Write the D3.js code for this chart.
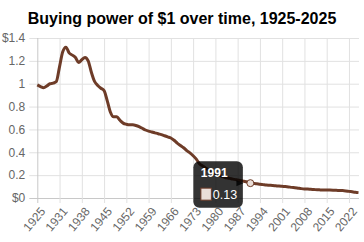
<!DOCTYPE html>
<html>
<head>
<meta charset="utf-8">
<script src="https://cdn.jsdelivr.net/npm/d3@7"></script>
<style>
    body { margin: 0; background: #fff; }
    text { font-family: "Liberation Sans", Arial, Helvetica, sans-serif; }
</style>
</head>
<body>
<div id="canvas"></div>
<script>
"use strict"

let svgWidth = 364
let svgHeight = 242

let topMargin = 38
let rightMargin = 5.5
let bottomMargin = 44
let leftMargin = 37.3

// category labels, as the source chart lists them (1925 appears twice)
let years = [1925].concat(d3.range(1925, 2026))

// buying power of $1 (1925 dollars), one value per label
let values = [
    0.99, 0.975, 0.965, 0.98, 1.0, 1.005, 1.02, 1.15, 1.28, 1.32,
    1.27, 1.25, 1.23, 1.185, 1.21, 1.23, 1.2, 1.1, 1.02, 0.985,
    0.96, 0.94, 0.85, 0.75, 0.71, 0.71, 0.68, 0.655, 0.645, 0.64,
    0.64, 0.635, 0.625, 0.61, 0.595, 0.585, 0.578, 0.57, 0.562, 0.555,
    0.545, 0.535, 0.525, 0.505, 0.48, 0.46, 0.44, 0.415, 0.395, 0.37,
    0.34, 0.3, 0.28, 0.26, 0.245, 0.23, 0.215, 0.2, 0.19, 0.18,
    0.175, 0.168, 0.163, 0.157, 0.151, 0.146, 0.14, 0.13, 0.127, 0.124,
    0.12, 0.117, 0.114, 0.112, 0.11, 0.107, 0.104, 0.102, 0.1, 0.097,
    0.093, 0.09, 0.086, 0.082, 0.079, 0.078, 0.076, 0.074, 0.072, 0.071,
    0.07, 0.07, 0.069, 0.068, 0.067, 0.066, 0.065, 0.062, 0.058, 0.054,
    0.05, 0.047
]

let yTicks = [0, 0.2, 0.4, 0.6, 0.8, 1, 1.2, 1.4]
let xTickStep = 7
let hoverIndex = 67   // 1991

let lineColor = "#6e3c28"
let gridColor = "#e1e1e1"
let labelColor = "#666"

let svg = d3.select("#canvas")
    .append("svg")
    .attr("width", svgWidth)
    .attr("height", svgHeight)

let xScale = d3.scalePoint()
    .domain(d3.range(years.length))
    .range([leftMargin, svgWidth - rightMargin])

let yScale = d3.scaleLinear()
    .domain([0, 1.4])
    .range([svgHeight - bottomMargin, topMargin])

/* title */
svg.append("text")
    .attr("x", svgWidth / 2)
    .attr("y", 24)
    .attr("text-anchor", "middle")
    .style("font-size", "16px")
    .style("font-weight", "bold")
    .attr("fill", "#000")
    .text("Buying power of $1 over time, 1925-2025")

/* y axis with grid */
let yAxis = svg.append("g")
    .attr("transform", `translate(${leftMargin},0)`)
    .call(d3.axisLeft(yScale)
        .tickValues(yTicks)
        .tickSize(-(svgWidth - rightMargin - leftMargin + 0.5))
        .tickSizeOuter(0)
        .tickPadding(12)
        .tickFormat(function (d) {
            if (d == 0 || d == 1.4) return "$" + d
            return d
        }))
yAxis.select(".domain").remove()
yAxis.selectAll("line")
    .attr("x1", -8)
    .attr("stroke", function (d) { return d == 0 ? "#c8c8c8" : gridColor })
yAxis.selectAll("text")
    .attr("fill", labelColor)
    .style("font-size", "12px")

/* x axis with grid */
let xTickValues = d3.range(0, years.length, xTickStep)
let xAxis = svg.append("g")
    .attr("transform", `translate(0,${svgHeight - bottomMargin})`)
    .call(d3.axisBottom(xScale)
        .tickValues(xTickValues)
        .tickSize(5)
        .tickSizeOuter(0)
        .tickFormat(function (i) { return years[i] }))
xAxis.select(".domain").remove()
xAxis.selectAll("line")
    .attr("y1", -(svgHeight - bottomMargin - topMargin))
    .attr("stroke", function (i) { return i == 0 ? "#c8c8c8" : gridColor })
xAxis.selectAll("text")
    .attr("fill", labelColor)
    .style("font-size", "12px")
    .attr("text-anchor", "end")
    .attr("dy", "0.35em")
    .attr("transform", "translate(5,11) rotate(-50)")
    .attr("y", 0)

/* the line */
let line = d3.line()
    .x(function (d, i) { return xScale(i) })
    .y(function (d) { return yScale(d) })
    .curve(d3.curveMonotoneX)

svg.append("path")
    .datum(values)
    .attr("d", line)
    .attr("fill", "none")
    .attr("stroke", lineColor)
    .attr("stroke-width", 3)
    .attr("stroke-linejoin", "round")

/* hover point and tooltip */
let hx = xScale(hoverIndex)
let hy = yScale(values[hoverIndex])

svg.append("circle")
    .attr("cx", hx)
    .attr("cy", hy)
    .attr("r", 3.5)
    .attr("fill", "#eaded8")
    .attr("stroke", lineColor)
    .attr("stroke-width", 1)

let tip = svg.append("g")
    .attr("transform", `translate(${hx - 57},${hy - 22})`)

tip.append("path")
    .attr("d", "M43,19 L50,22 L43,25 Z")
    .attr("fill", "rgba(0,0,0,0.8)")

tip.append("rect")
    .attr("width", 49.5)
    .attr("height", 46.5)
    .attr("rx", 6)
    .attr("fill", "rgba(0,0,0,0.8)")

tip.append("text")
    .attr("x", 7.5)
    .attr("y", 15.5)
    .attr("fill", "#fff")
    .style("font-size", "12px")
    .style("font-weight", "bold")
    .text(years[hoverIndex])

tip.append("rect")
    .attr("x", 7.5)
    .attr("y", 27)
    .attr("width", 10.5)
    .attr("height", 12)
    .attr("fill", "#eaded8")
    .attr("stroke", lineColor)
    .attr("stroke-width", 1)

tip.append("text")
    .attr("x", 19.5)
    .attr("y", 38)
    .attr("fill", "#fff")
    .style("font-size", "12.5px")
    .text(values[hoverIndex])
</script>
</body>
</html>
